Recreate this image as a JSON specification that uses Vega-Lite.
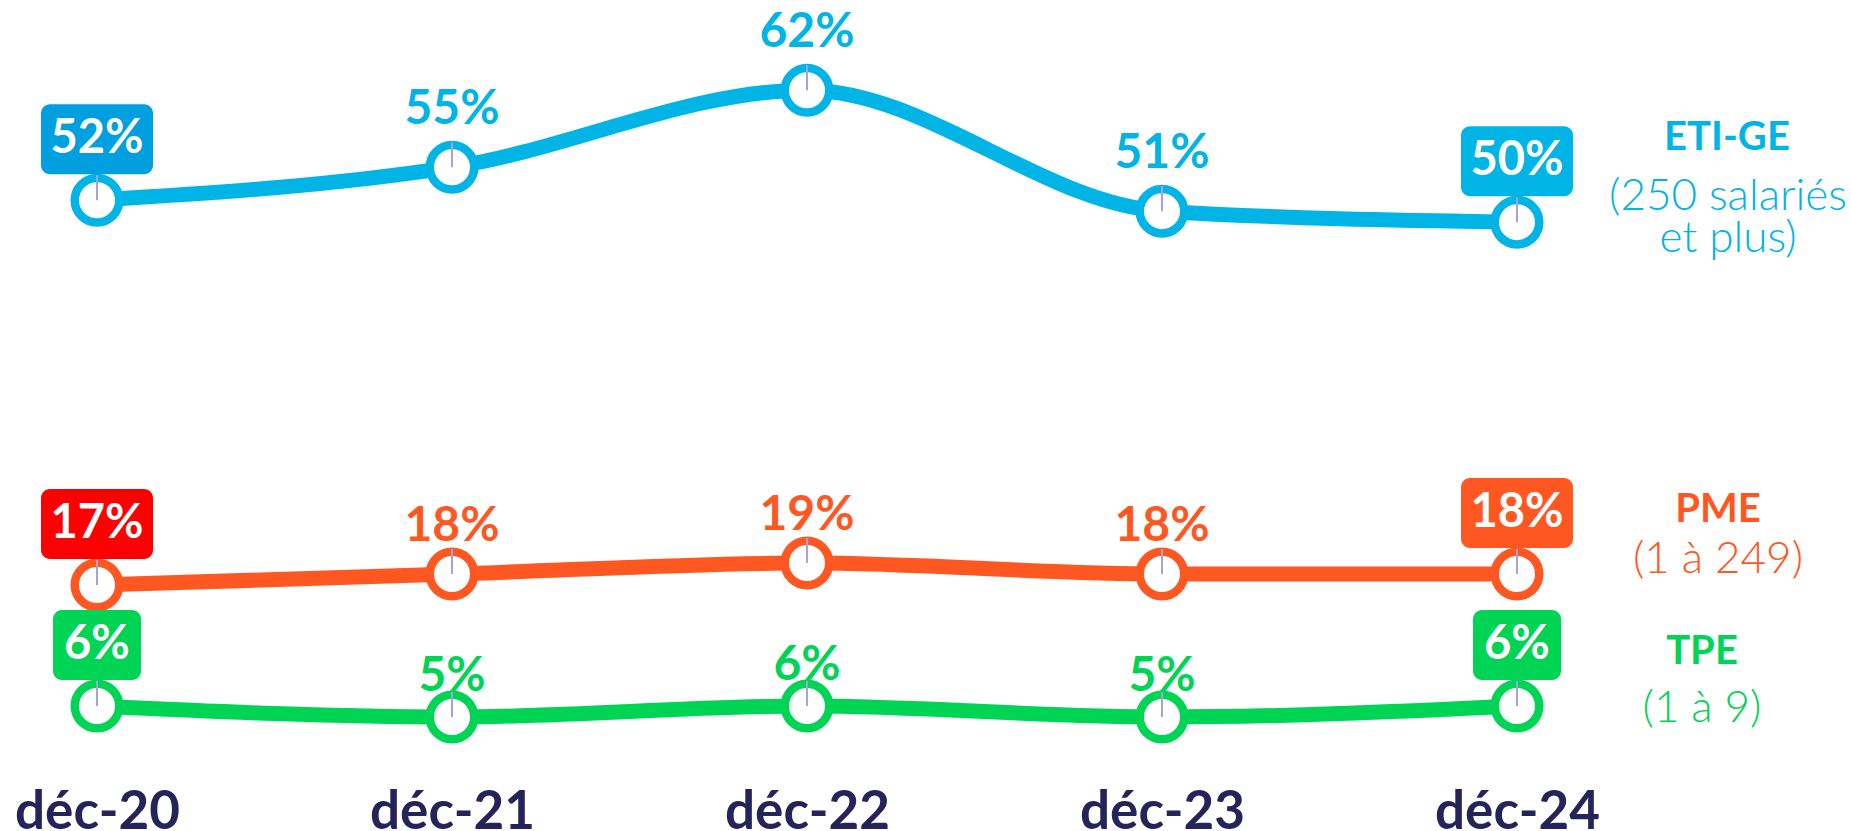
{
  "$schema": "https://vega.github.io/schema/vega-lite/v6.json",
  "width": 1851,
  "height": 772,
  "autosize": "none",
  "padding": {"left": 0, "top": 0, "right": 0, "bottom": 59},
  "background": "white",
  "config": {"view": {"stroke": null}, "font": "Lato"},
  "data": {
    "values": [
      {"serie": "ETI-GE", "mois": "déc-20", "valeur": 0.52},
      {"serie": "ETI-GE", "mois": "déc-21", "valeur": 0.55},
      {"serie": "ETI-GE", "mois": "déc-22", "valeur": 0.62},
      {"serie": "ETI-GE", "mois": "déc-23", "valeur": 0.51},
      {"serie": "ETI-GE", "mois": "déc-24", "valeur": 0.50},
      {"serie": "PME", "mois": "déc-20", "valeur": 0.17},
      {"serie": "PME", "mois": "déc-21", "valeur": 0.18},
      {"serie": "PME", "mois": "déc-22", "valeur": 0.19},
      {"serie": "PME", "mois": "déc-23", "valeur": 0.18},
      {"serie": "PME", "mois": "déc-24", "valeur": 0.18},
      {"serie": "TPE", "mois": "déc-20", "valeur": 0.06},
      {"serie": "TPE", "mois": "déc-21", "valeur": 0.05},
      {"serie": "TPE", "mois": "déc-22", "valeur": 0.06},
      {"serie": "TPE", "mois": "déc-23", "valeur": 0.05},
      {"serie": "TPE", "mois": "déc-24", "valeur": 0.06}
    ]
  },
  "encoding": {
    "x": {
      "field": "mois", "type": "ordinal", "sort": null,
      "scale": {"type": "point", "range": [97, 1517], "padding": 0},
      "axis": {"title": null, "domain": false, "ticks": false, "grid": false, "labelAngle": 0,
        "labelFont": "Lato", "labelFontWeight": "bold", "labelFontSize": 53, "labelColor": "#24245A", "labelPadding": 14}
    },
    "y": {"field": "valeur", "type": "quantitative", "scale": {"domain": [0, 0.702], "nice": false, "zero": true}, "axis": null},
    "color": {"field": "serie", "type": "nominal", "scale": {"domain": ["ETI-GE", "PME", "TPE"], "range": ["#00B5E6", "#FF5722", "#00D455"]}, "legend": null}
  },
  "layer": [
    {"mark": {"type": "line", "strokeWidth": 15, "interpolate": "monotone"}},
    {"mark": {"type": "point", "shape": "circle", "filled": false, "fill": "white", "fillOpacity": 1, "opacity": 1, "strokeWidth": 8.5, "size": 1980}},
    {"mark": {"type": "rule", "strokeWidth": 2, "y2Offset": -25},
     "encoding": {"y2": {"field": "valeur"}, "color": {"value": "#A3A3DE"}}},
    {"transform": [{"filter": "(datum.mois === 'déc-20' || datum.mois === 'déc-24') && datum.valeur >= 0.1"}],
     "mark": {"type": "rect", "cornerRadius": 9, "xOffset": -56, "x2Offset": 56, "yOffset": -96, "y2Offset": -26},
     "encoding": {"x2": {"field": "mois"}, "y2": {"field": "valeur"},
       "color": {"condition": [
         {"test": "datum.serie === 'ETI-GE' && datum.mois === 'déc-20'", "value": "#009FE0"},
         {"test": "datum.serie === 'PME' && datum.mois === 'déc-20'", "value": "#FF0000"}],
         "field": "serie", "type": "nominal", "legend": null}}},
    {"transform": [{"filter": "(datum.mois === 'déc-20' || datum.mois === 'déc-24') && datum.valeur < 0.1"}],
     "mark": {"type": "rect", "cornerRadius": 9, "xOffset": -44, "x2Offset": 44, "yOffset": -96, "y2Offset": -26},
     "encoding": {"x2": {"field": "mois"}, "y2": {"field": "valeur"}}},
    {"transform": [{"filter": "datum.mois === 'déc-20' || datum.mois === 'déc-24'"}],
     "mark": {"type": "text", "fontSize": 47, "fontWeight": "bold", "baseline": "middle", "align": "center", "dy": -61},
     "encoding": {"text": {"field": "valeur", "type": "quantitative", "format": ".0%"}, "color": {"value": "white"}}},
    {"transform": [{"filter": "datum.mois !== 'déc-20' && datum.mois !== 'déc-24' && datum.serie === 'ETI-GE'"}],
     "mark": {"type": "text", "fontSize": 48, "fontWeight": "bold", "baseline": "middle", "align": "center", "dy": -57},
     "encoding": {"text": {"field": "valeur", "type": "quantitative", "format": ".0%"}}},
    {"transform": [{"filter": "datum.mois !== 'déc-20' && datum.mois !== 'déc-24' && datum.serie === 'PME'"}],
     "mark": {"type": "text", "fontSize": 48, "fontWeight": "bold", "baseline": "middle", "align": "center", "dy": -47},
     "encoding": {"text": {"field": "valeur", "type": "quantitative", "format": ".0%"}}},
    {"transform": [{"filter": "datum.mois !== 'déc-20' && datum.mois !== 'déc-24' && datum.serie === 'TPE'"}],
     "mark": {"type": "text", "fontSize": 48, "fontWeight": "bold", "baseline": "middle", "align": "center", "dy": -40},
     "encoding": {"text": {"field": "valeur", "type": "quantitative", "format": ".0%"}}},
    {"transform": [{"filter": "datum.mois === 'déc-24' && datum.serie === 'ETI-GE'"}],
     "mark": {"type": "text", "fontSize": 40, "fontWeight": "bold", "baseline": "middle", "align": "center", "dx": 210, "dy": -84},
     "encoding": {"text": {"value": "ETI-GE"}}},
    {"transform": [{"filter": "datum.mois === 'déc-24' && datum.serie === 'ETI-GE'"}],
     "mark": {"type": "text", "fontSize": 44, "fontWeight": 300, "baseline": "middle", "align": "center", "dx": 211, "dy": -25, "lineHeight": 42},
     "encoding": {"text": {"value": ["(250 salariés", "et plus)"]}}},
    {"transform": [{"filter": "datum.mois === 'déc-24' && datum.serie === 'PME'"}],
     "mark": {"type": "text", "fontSize": 40, "fontWeight": "bold", "baseline": "middle", "align": "center", "dx": 201, "dy": -64},
     "encoding": {"text": {"value": "PME"}}},
    {"transform": [{"filter": "datum.mois === 'déc-24' && datum.serie === 'PME'"}],
     "mark": {"type": "text", "fontSize": 44, "fontWeight": 300, "baseline": "middle", "align": "center", "dx": 201, "dy": -14},
     "encoding": {"text": {"value": "(1 à 249)"}}},
    {"transform": [{"filter": "datum.mois === 'déc-24' && datum.serie === 'TPE'"}],
     "mark": {"type": "text", "fontSize": 40, "fontWeight": "bold", "baseline": "middle", "align": "center", "dx": 185, "dy": -54},
     "encoding": {"text": {"value": "TPE"}}},
    {"transform": [{"filter": "datum.mois === 'déc-24' && datum.serie === 'TPE'"}],
     "mark": {"type": "text", "fontSize": 44, "fontWeight": 300, "baseline": "middle", "align": "center", "dx": 185, "dy": 3},
     "encoding": {"text": {"value": "(1 à 9)"}}}
  ]
}
